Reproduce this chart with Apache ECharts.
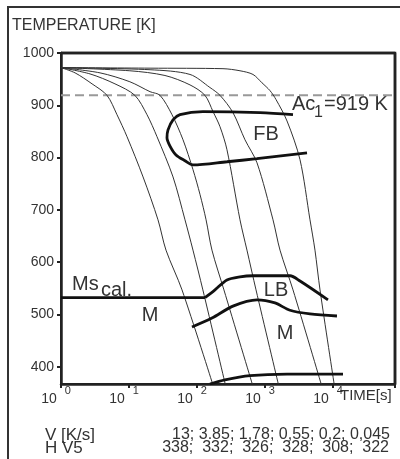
<!DOCTYPE html>
<html><head><meta charset="utf-8">
<script src="https://cdn.jsdelivr.net/npm/echarts@6/dist/echarts.min.js"></script>
<style>html,body{margin:0;padding:0;background:#fff}#c{width:400px;height:459px}</style>
</head><body><div id="c"></div>
<script>
// ---- data ----
const yTicks = [400, 500, 600, 700, 800, 900, 1000];
const yMin = 367, yMax = 1000;
const xMin = 1, xMax = 81660;           // seconds
const ac1 = 919;                          // K
const msCal = 532;                        // K
const coolingRates = ['13', '3.85', '1,78', '0,55', '0,2', '0,045'];
const hardness = ['338', '332', '326', '328', '308', '322'];

// cooling curves [time s, temperature K]
const curve1 = [[1,972],[1.61,962],[2.86,941],[4.75,919],[6.66,882],[9.35,840],[16.1,763],[26.7,681],[35,623],[60.2,547],[170,367]];
const curve2 = [[1,972],[2.67,960],[6.22,941],[12.2,919],[18.4,882],[25.8,840],[44.4,763],[66.6,681],[87.3,623],[122,547],[260,367]];
const curve3 = [[1,972],[3.75,962],[10.3,945],[20.4,926],[28.6,919],[42.9,882],[62.3,834],[87.3,777],[111,729],[136,681],[166,623],[249,547],[650,367]];
const curve4 = [[1,972],[10.3,966],[33.8,957],[78.9,939],[131,919],[172,888],[218,859],[276,815],[429,681],[543,623],[738,547],[1570,367]];
const curve5 = [[1,972],[20.4,968],[78.9,959],[155,934],[218,919],[338,886],[508,834],[763,790],[1312,681],[1663,623],[2582,547],[6700,367]];
const curve6 = [[1,972],[20.4,971],[241,970],[429,966],[666,959],[903,943],[1185,928],[1452,911],[2108,870],[3273,796],[4590,681],[5433,623],[6442,547],[10400,367]];

// transformation boundaries
const fbLine = [[2582,882],[844,886],[122,888],[56.2,882],[44.4,872],[37.5,853],[36.2,838],[40.1,822],[49.1,805],[66.6,794],[87.3,786],[276,792],[763,798],[4150,809]];
const msLine = [[1,msCal],[131,msCal]];
const lbStart = [[131,msCal],[184,547],[276,566],[429,572],[666,574],[2333,574],[3273,564],[8440,528]];
const lbEnd = [[84.4,476],[166,493],[338,516],[763,528],[1403,522],[2333,508],[4590,501],[11450,497]];
const mEnd = [[155,367],[258,375],[602,383],[2108,386],[14030,386]];
const acLine = [[xMin,ac1],[xMax,ac1]];
const frame = [[xMin,yMax],[xMax,yMax],[xMax,yMin]];   // top and right edges of the plot box

// ---- layout ----
const G = {left: 61, right: 5, top: 53, bottom: 75};
const W = 400, H = 459;

// ---- chart ----
const FONT = '"Liberation Sans", Arial, sans-serif';
const TXT = '#333';
const AX = '#222';
const chart = echarts.init(document.getElementById('c'));

function thin(data) {
  return {type: 'line', data: data, smooth: 0.3, symbol: 'none',
    lineStyle: {color: '#333', width: 1}};
}
function thick(data, smooth) {
  return {type: 'line', data: data, smooth: smooth, symbol: 'none',
    lineStyle: {color: '#111', width: 2.8}};
}
function txt(x, y, s, size, align, valign) {
  return {type: 'text', x: x, y: y, silent: true,
    style: {text: s, font: size + 'px ' + FONT, fill: TXT,
      textAlign: align, align: align, textVerticalAlign: valign, verticalAlign: valign}};
}

const option = {
  animation: false,
  backgroundColor: '#fff',
  textStyle: {fontFamily: FONT},
  grid: {left: G.left, right: G.right, top: G.top, bottom: G.bottom, containLabel: false, outerBoundsMode: 'none',
    show: true, borderColor: AX, borderWidth: 2, backgroundColor: 'transparent'},
  xAxis: {
    type: 'log', logBase: 10, min: xMin, max: xMax, position: 'bottom',
    splitLine: {show: false},
    axisLine: {show: true, onZero: false, lineStyle: {color: AX, width: 2.5}},
    axisTick: {show: true, length: 4, lineStyle: {color: AX, width: 2}},
    axisLabel: {
      margin: 1, color: TXT,
      formatter: function (v) {
        const l = Math.log10(v), e = Math.round(l);
        if (Math.abs(l - e) > 1e-6) return '';
        return '{b|10}{e|' + e + '}';
      },
      rich: {
        b: {fontSize: 14, color: TXT, fontFamily: FONT, lineHeight: 21, verticalAlign: 'bottom'},
        e: {fontSize: 11, color: TXT, fontFamily: FONT, lineHeight: 11, verticalAlign: 'top', padding: [0, 10, 0, 8]}
      }
    }
  },
  yAxis: {
    type: 'value', min: yMin, max: yMax, position: 'left',
    splitLine: {show: false},
    axisLine: {show: true, onZero: false, lineStyle: {color: AX, width: 2.5}},
    axisTick: {show: true, length: 4, customValues: yTicks, lineStyle: {color: AX, width: 2}},
    axisLabel: {customValues: yTicks, margin: 7, fontSize: 14, color: TXT,
      formatter: function (v) { return String(v); }}
  },
  series: [
    {type: 'line', data: acLine, symbol: 'none', lineStyle: {color: '#999', width: 2, type: [9, 5]}},
    thin(curve1), thin(curve2), thin(curve3), thin(curve4), thin(curve5), thin(curve6),
    thick(fbLine, 0.3), thick(msLine, false), thick(lbStart, 0.3), thick(lbEnd, 0.3), thick(mEnd, 0.3),
    {type: 'line', data: frame, symbol: 'none', clip: false, z: 8, lineStyle: {color: AX, width: 2.5}}
  ],
  graphic: [
    {type: 'polyline', silent: true, z: 100, shape: {points: [[8, H], [8, 7], [W, 7]]},
      style: {stroke: '#333', lineWidth: 2, fill: null}},
    {type: 'polyline', silent: true, z: 100,
      shape: {points: [[G.left, G.top], [W - G.right, G.top], [W - G.right, H - G.bottom]]},
      style: {stroke: AX, lineWidth: 2.5, fill: null}},
    txt(12, 18, 'TEMPERATURE [K]', 16, 'left', 'top'),
    txt(340, 388, 'TIME[s]', 15, 'left', 'top'),
    txt(292, 94, 'Ac', 20, 'left', 'top'),
    txt(314, 105, '1', 16, 'left', 'top'),
    txt(324, 94, '=' + ac1 + ' K', 20, 'left', 'top'),
    txt(266, 134, 'FB', 20, 'center', 'middle'),
    txt(276, 290, 'LB', 20, 'center', 'middle'),
    txt(285, 333, 'M', 20, 'center', 'middle'),
    txt(150, 315, 'M', 20, 'center', 'middle'),
    txt(72, 294, 'Ms', 20, 'left', 'bottom'),
    txt(101, 300, 'cal.', 20, 'left', 'bottom'),
    txt(45, 427, 'V [K/s]', 17, 'left', 'top'),
    txt(45, 440, 'H V5', 17, 'left', 'top'),
    txt(390, 427, coolingRates.join('; '), 16, 'right', 'top'),
    txt(389, 440, hardness.join(';  '), 16, 'right', 'top')
  ]
};
chart.setOption(option);
</script></body></html>
